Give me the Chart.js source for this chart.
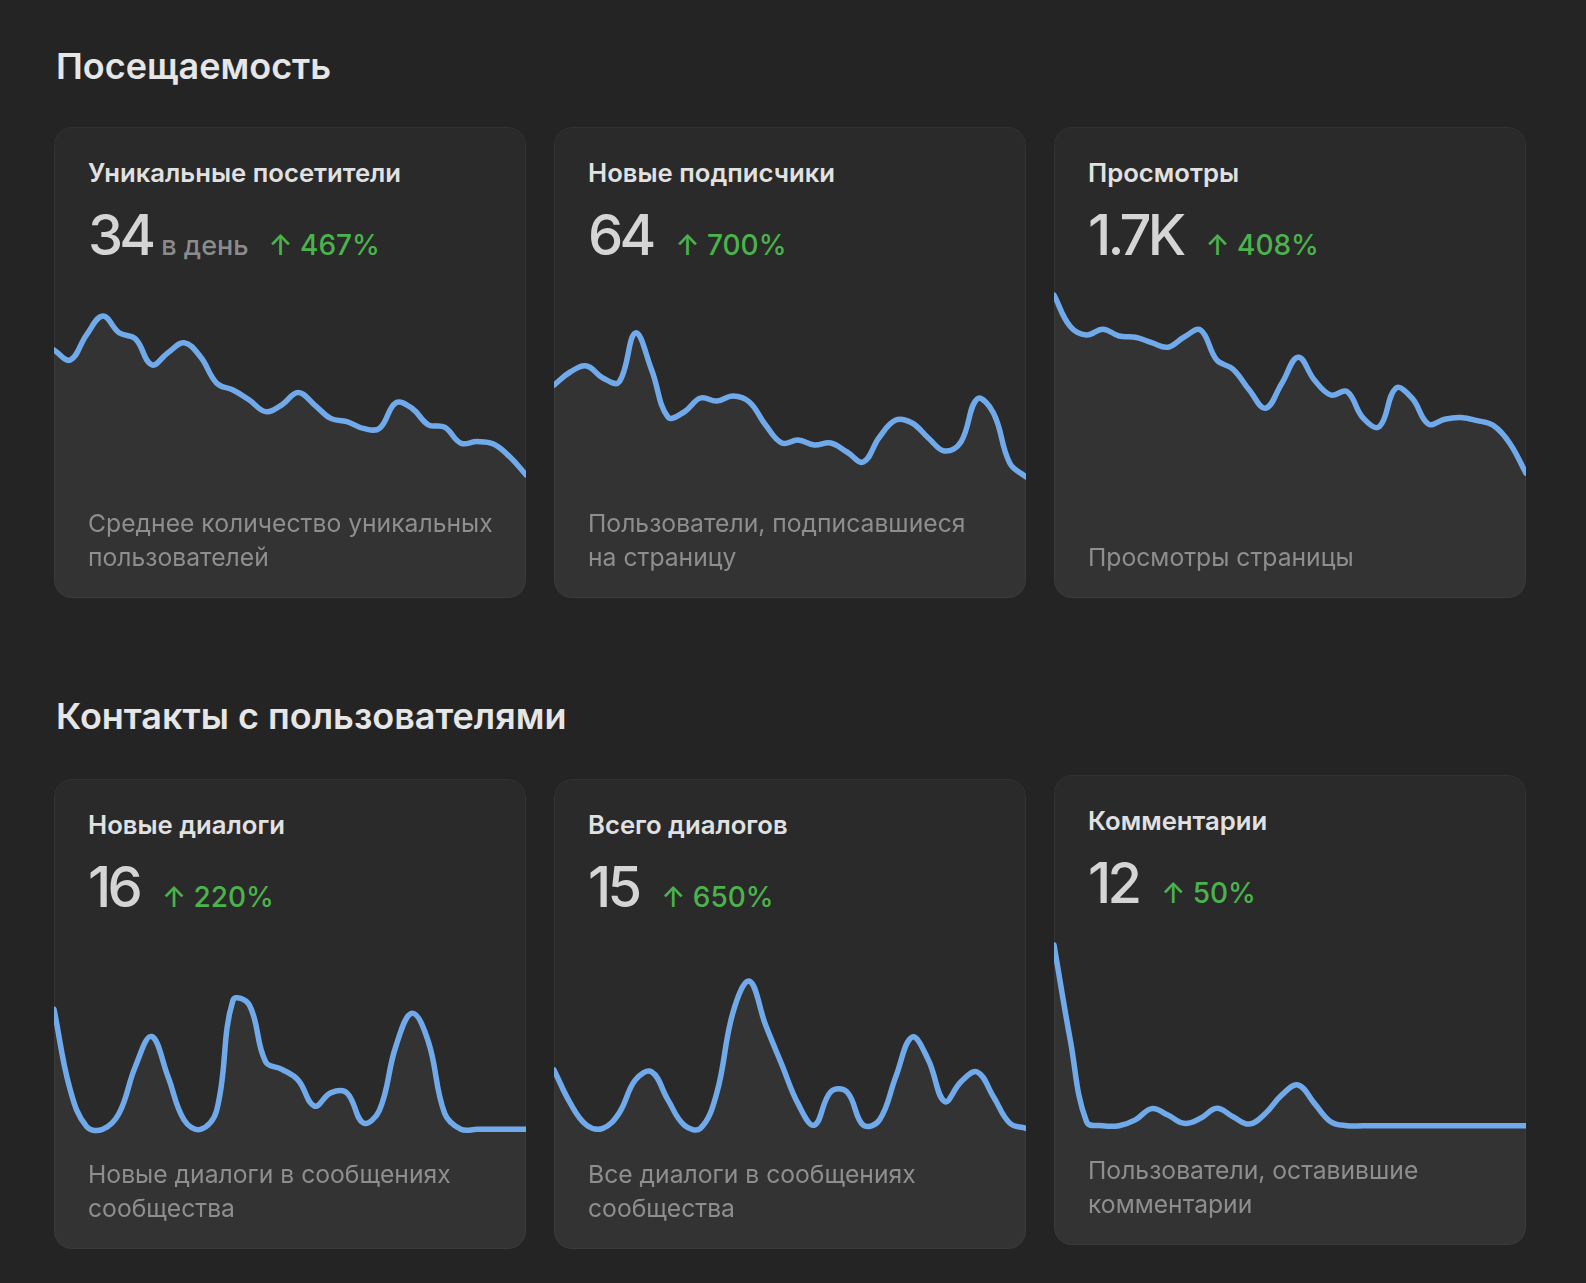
<!DOCTYPE html>
<html><head><meta charset="utf-8">
<script src="https://cdn.jsdelivr.net/npm/chart.js@4/dist/chart.umd.min.js"></script>
<style>
html,body{margin:0;padding:0;background:#242424;}
body{width:1586px;height:1283px;position:relative;overflow:hidden;font-family:Inter,"Noto Sans",sans-serif;}
.h{position:absolute;left:56px;font-size:36px;line-height:36px;font-weight:600;color:#e6e6e6;white-space:nowrap}
.card{position:absolute;width:472px;border-radius:18px;background:#2a2a2a;overflow:hidden}
.card::after{content:"";position:absolute;left:0;top:0;right:0;bottom:0;border-radius:18px;border:1px solid rgba(255,255,255,0.045);pointer-events:none;z-index:5}
.card canvas{position:absolute;left:0;top:150px}
.title{position:absolute;left:34px;top:33px;font-size:25.7px;line-height:25px;font-weight:600;color:#e1e1e1;white-space:nowrap;z-index:2}
.stat{position:absolute;left:34px;top:80px;font-size:56px;line-height:56px;white-space:nowrap;z-index:2}
.num{font-weight:500;color:#d5d5d5;letter-spacing:-3.8px}
.unit{font-size:27px;font-weight:500;color:#8b8b8b;margin-left:9px;margin-right:-3px}
.delta{font-size:28px;font-weight:500;color:#4bb34b;margin-left:23px}
.desc{position:absolute;left:34px;bottom:24px;font-size:24.7px;line-height:34px;color:#8e8e8e;white-space:nowrap;z-index:2}
</style></head>
<body>
<script>
// ---- categories ----
const days = ['1','2','3','4','5','6','7','8','9','10','11','12','13','14','15','16','17','18','19','20','21','22','23','24','25','26','27','28','29','30'];

// ---- series values ----
const uniqueVisitors = [47.5, 45, 51.3, 56, 51.8, 50.3, 43.8, 46.8, 49.3, 45.8, 39.2, 37.5, 35, 32.1, 33.8, 36.9, 33.8, 30.4, 29.6, 27.9, 27.9, 34.3, 32.9, 28.8, 28.2, 24.2, 24.6, 24, 20.8, 16.3];
const newSubscribers = [9.5, 10.8, 11.4, 10.2, 9.8, 14.7, 11.0, 6.3, 6.8, 8.2, 7.9, 8.4, 7.8, 5.5, 3.7, 4.0, 3.5, 3.7, 2.8, 1.8, 4.3, 6.0, 5.7, 4.2, 2.9, 3.8, 8.1, 6.7, 1.7, 0.3];
const pageViews = [92.5, 76.7, 72.5, 75.4, 72, 71.4, 68.7, 66.4, 71.5, 75, 60, 55.4, 45, 35.9, 48.4, 61.4, 50, 42.5, 44.2, 30.9, 26.7, 45.9, 40.9, 28, 30.4, 31.2, 29.7, 27.2, 18.4, 3.4];
const newDialogs = [3.0, 0.98, 0.07, 0, 0.4, 1.57, 2.32, 1.32, 0.23, 0, 0.48, 3.23, 3.11, 1.69, 1.5, 1.23, 0.58, 0.91, 0.91, 0.16, 0.48, 2.07, 2.9, 2.19, 0.4, 0, 0, 0, 0, 0];
const allDialogs = [1.46, 0.63, 0.08, 0, 0.38, 1.21, 1.41, 0.71, 0.08, 0, 0.88, 2.9, 3.68, 2.58, 1.59, 0.61, 0.08, 0.91, 0.91, 0.08, 0.21, 1.29, 2.28, 1.71, 0.67, 1.16, 1.41, 0.79, 0.13, 0];
const comments = [10.04, 4.76, 0.22, 0, 0, 0.32, 0.95, 0.59, 0.13, 0.41, 0.97, 0.5, 0.09, 0.69, 1.71, 2.26, 1.24, 0.22, 0, 0, 0, 0, 0, 0, 0, 0, 0, 0, 0, 0];

// ---- texts ----
const sectionTitles = ['Посещаемость', 'Контакты с пользователями'];
const cardTitles = ['Уникальные посетители', 'Новые подписчики', 'Просмотры', 'Новые диалоги', 'Всего диалогов', 'Комментарии'];
const totals = ['34', '64', '1.7K', '16', '15', '12'];
const units = ['в день', '', '', '', '', ''];
const changes = ['467%', '700%', '408%', '220%', '650%', '50%'];
const descriptions = [
  ['Среднее количество уникальных', 'пользователей'],
  ['Пользователи, подписавшиеся', 'на страницу'],
  ['Просмотры страницы'],
  ['Новые диалоги в сообщениях', 'сообщества'],
  ['Все диалоги в сообщениях', 'сообщества'],
  ['Пользователи, оставившие', 'комментарии']
];
const series = [uniqueVisitors, newSubscribers, pageViews, newDialogs, allDialogs, comments];

// ---- layout (positions / scale placement) ----
const sectionTops = [48, 698];
const cardBoxes = [
  {left:54, top:127, height:471, zeroY:540, pxPerUnit:4},
  {left:554, top:127, height:471, zeroY:480, pxPerUnit:10},
  {left:1054, top:127, height:471, zeroY:480, pxPerUnit:2},
  {left:54, top:779, height:470, zeroY:1129.3, pxPerUnit:40},
  {left:554, top:779, height:470, zeroY:1128.3, pxPerUnit:40},
  {left:1054, top:775, height:470, zeroY:1125.7, pxPerUnit:18}
];
const CHART_TOP = 150, CARD_W = 472;

sectionTitles.forEach((t, i) => {
  const d = document.createElement('div');
  d.className = 'h'; d.style.top = sectionTops[i] + 'px'; d.textContent = t;
  document.body.appendChild(d);
});

cardBoxes.forEach((b, i) => {
  const card = document.createElement('div');
  card.className = 'card';
  card.style.left = b.left + 'px'; card.style.top = b.top + 'px'; card.style.height = b.height + 'px';
  const title = document.createElement('div'); title.className = 'title'; title.textContent = cardTitles[i];
  const stat = document.createElement('div'); stat.className = 'stat';
  const num = document.createElement('span'); num.className = 'num'; num.textContent = totals[i];
  stat.appendChild(num);
  if (units[i]) { const u = document.createElement('span'); u.className = 'unit'; u.textContent = units[i]; stat.appendChild(u); }
  const dl = document.createElement('span'); dl.className = 'delta'; dl.textContent = '\u2191 ' + changes[i];
  stat.appendChild(dl);
  const desc = document.createElement('div'); desc.className = 'desc';
  descriptions[i].forEach((line, j) => { if (j) desc.appendChild(document.createElement('br')); desc.appendChild(document.createTextNode(line)); });
  const cv = document.createElement('canvas');
  const ch = b.height - CHART_TOP;
  cv.width = CARD_W; cv.height = ch; cv.style.width = CARD_W + 'px'; cv.style.height = ch + 'px';
  card.appendChild(cv); card.appendChild(title); card.appendChild(stat); card.appendChild(desc);
  document.body.appendChild(card);

  const yMax = (b.zeroY - (b.top + CHART_TOP)) / b.pxPerUnit;
  const yMin = (b.zeroY - (b.top + b.height)) / b.pxPerUnit;
  new Chart(cv.getContext('2d'), {
    type: 'line',
    data: { labels: days, datasets: [{
      data: series[i], borderColor: '#71aaeb', borderWidth: 5.5, backgroundColor: '#333333',
      fill: 'start', pointRadius: 0, pointHoverRadius: 0, tension: 0.4,
      borderCapStyle: 'round', borderJoinStyle: 'round'
    }]},
    options: {
      responsive: false, animation: false, events: [],
      layout: { padding: 0 },
      plugins: { legend: { display: false }, tooltip: { enabled: false } },
      scales: { x: { display: false, offset: false }, y: { display: false, min: yMin, max: yMax } }
    }
  });
});
</script>
</body></html>
